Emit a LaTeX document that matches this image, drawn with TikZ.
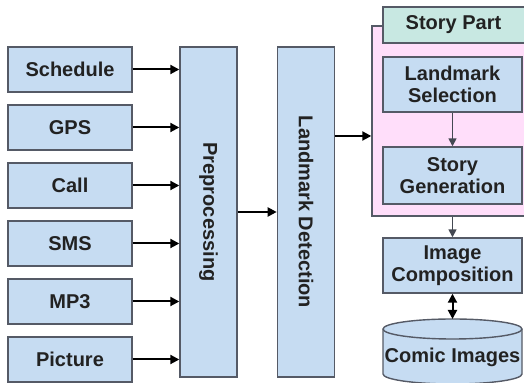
\documentclass[tikz,border=0pt]{standalone}
\usepackage{fontspec}
\setmainfont{Liberation Sans}
\usepackage{graphicx}
\usetikzlibrary{arrows.meta,positioning}
\definecolor{boxblue}{HTML}{C6DCF2}
\definecolor{partteal}{HTML}{C8E8E2}
\definecolor{storypink}{HTML}{FFDEFA}
\definecolor{edgegray}{HTML}{555A66}
\definecolor{textdark}{HTML}{222222}

\begin{document}
\begin{tikzpicture}[
  x=0.5pt,y=-0.5pt,
  block/.style={draw=edgegray,line width=.7pt,fill=boxblue,font=\bfseries\fontsize{10}{11}\selectfont,align=center,inner sep=0pt,text=textdark},
  src/.style={block,minimum width=62pt,minimum height=22.5pt},
  tall/.style={block,minimum width=28.5pt,minimum height=165pt},
  part/.style={block,minimum width=69.5pt,minimum height=27.5pt},
  flow/.style={line width=1pt,-{Triangle[length=4.5pt,width=4.5pt]}},
  both/.style={line width=1pt,{Triangle[length=4.5pt,width=4.5pt]}-{Triangle[length=4.5pt,width=4.5pt]}},
  link/.style={edgegray!80!black,line width=.8pt,-{Triangle[length=4pt,width=4pt]}}
]
  \useasboundingbox (0,0) rectangle (524,383);
  \clip (0,0) rectangle (524,383);

  % sources
  \node[src] (sched) at (70,69.5) {Schedule};
  \node[src,below=5.8pt of sched] (gps) {GPS};
  \node[src,below=5.8pt of gps] (call) {Call};
  \node[src,below=5.8pt of call] (sms) {SMS};
  \node[src,below=5.8pt of sms] (mp3) {MP3};
  \node[src,below=5.8pt of mp3] (pict) {Picture};

  \node[tall] (prep) at (208.5,212) {\rotatebox{-90}{Preprocessing}};
  \node[tall,right=19.5pt of prep] (detect) {\rotatebox{-90}{Landmark Detection}};

  % story part
  \node[draw=edgegray,line width=.7pt,fill=storypink,minimum width=79pt,minimum height=95pt,inner sep=0pt] (story) at (451,121) {};
  \node[block,fill=partteal,minimum width=72.5pt,minimum height=18pt] (storyhead) at (455.5,25) {Story Part\hspace{2pt}};
  \node[part] (lsel) at (452.5,84.5) {Landmark\\Selection};
  \node[part,minimum height=28.5pt] (sgen) at (452.5,175.5) {Story\\Generation};
  \node[part] (icomp) at (452.5,265.5) {Image\\Composition};

  % comic images store
  \filldraw[draw=edgegray,fill=boxblue,line width=.7pt] (383,329) -- (383,374)
    arc[start angle=180,end angle=360,x radius=34.75pt,y radius=5pt] -- (522,329)
    arc[start angle=0,end angle=180,x radius=34.75pt,y radius=5pt] -- cycle;
  \draw[edgegray,line width=.7pt] (383,329) arc[start angle=180,end angle=360,x radius=34.75pt,y radius=5pt];
  \node[font=\bfseries\fontsize{10}{11}\selectfont,text=textdark] (comic) at (452.5,357) {Comic Images};
  \coordinate (comictop) at (452.5,319);

  % connectors
  \draw[flow] (sched.east) -- (sched.east -| prep.west);
  \draw[flow] (gps.east) -- (gps.east -| prep.west);
  \draw[flow] (call.east) -- (call.east -| prep.west);
  \draw[flow] (sms.east) -- (sms.east -| prep.west);
  \draw[flow] (mp3.east) -- (mp3.east -| prep.west);
  \draw[flow] (pict.east) -- (pict.east -| prep.west);
  \draw[flow] (prep.east) -- (detect.west);
  \coordinate (storyin) at ([yshift=-7.5pt]story.west);
  \draw[flow] (detect.east |- storyin) -- (storyin);
  \draw[link] (lsel.south) -- (sgen.north);
  \draw[link] (icomp.north |- story.south) -- (icomp.north);
  \draw[both] (icomp.south) -- (comictop);
\end{tikzpicture}
\end{document}
